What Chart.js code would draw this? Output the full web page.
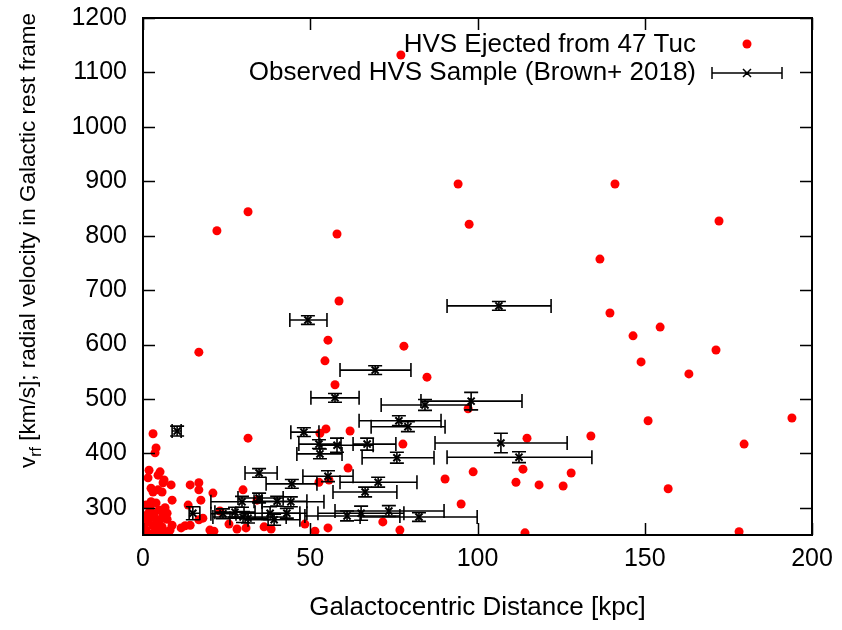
<!DOCTYPE html>
<html>
<head>
<meta charset="utf-8">
<script src="https://cdn.jsdelivr.net/npm/chart.js@4.4.1/dist/chart.umd.min.js"></script>
<style>
  html, body { margin: 0; padding: 0; background: #fff; }
  #wrap { width: 842px; height: 630px; }
</style>
</head>
<body>
<div id="wrap"><canvas id="hvsChart" width="842" height="630"></canvas></div>
<script>
// HVS ejected from 47 Tuc (simulation) - distance [kpc], velocity [km/s]
const ejDist = [
    77.1, 94.2, 31.4, 97.5, 22.1, 58.0, 141.1, 172.2, 136.6, 58.6,
    139.6, 154.6, 146.5, 171.3, 148.9, 163.2, 78.0, 55.3, 54.4, 57.4,
    84.9, 97.2, 151.0, 194.0, 133.9, 114.8, 179.7, 77.7, 54.7, 52.9,
    61.9, 61.3, 90.3, 98.7, 113.6, 128.0, 111.5, 118.4, 125.6, 157.0,
    95.1, 52.6, 55.6, 48.4, 51.4, 55.3, 71.7, 76.8, 114.2, 178.2,
    16.7, 31.4, 3.0, 3.9, 3.6,
    1.5, 2.4, 5.1, 6.0, 6.3, 8.4, 8.7, 14.1, 16.7, 16.7,
    17.3, 20.9, 13.5, 29.9, 3.0, 4.5, 5.7, 2.4, 3.9, 2.1,
    1.5, 3.3, 4.8, 6.6, 7.2, 7.2, 8.7, 1.5, 3.0, 4.2,
    5.7, 6.9, 2.4, 4.8, 0.3, 0.6, 11.4, 12.6, 14.1, 16.7,
    20.0, 21.2, 25.7, 28.1, 30.8, 17.9, 23.0, 36.2, 38.3, 34.1,
    0.9, 3.6, 5.1, 2.1, 6.0, 3.9, 0.9, 8.1, 4.5, 1.8
];
const ejVel = [
    1132, 895, 844, 821, 809, 803, 895, 827, 757, 680,
    658, 632, 616, 590, 568, 546, 597, 608, 570, 526,
    540, 482, 460, 465, 432, 428, 417, 417, 445, 437,
    441, 373, 353, 366, 371, 364, 347, 342, 340, 335,
    307, 347, 351, 270, 257, 263, 274, 259, 254, 256,
    586, 428, 436, 410, 401,
    355, 336, 366, 346, 351, 342, 314, 342, 346, 333,
    314, 327, 305, 333, 329, 333, 329, 311, 309, 300,
    289, 289, 296, 300, 290, 279, 268, 274, 267, 259,
    265, 256, 252, 252, 265, 278, 263, 267, 268, 278,
    259, 257, 270, 261, 263, 281, 294, 265, 261, 314,
    305, 281, 278, 287, 287, 270, 259, 259, 360, 369
];

// observed HVS sample (Brown+ 2018): distance with low/high bounds, velocity with error
const obsDist   = [106.4, 49.3, 69.4, 57.4, 84.3, 98.1, 76.5, 79.2, 107.0, 112.4, 75.9, 67.0, 58.0, 52.6, 48.1, 52.9, 10.2, 34.7, 44.5, 55.3, 70.3, 66.4, 14.9, 34.7, 29.6, 40.1, 44.2, 23.9, 29.9, 31.4, 38.0, 43.0, 39.2, 61.0, 65.2, 73.5, 82.5, 27.5];
const obsDistLo = [90.9, 43.9, 58.9, 50.2, 71.2, 83.1, 64.6, 68.2, 87.3, 90.9, 65.5, 62.8, 52.9, 46.6, 44.2, 46.0, 8.7, 30.5, 36.8, 47.8, 58.9, 56.8, 13.8, 28.4, 20.3, 33.2, 35.6, 20.3, 20.9, 26.0, 30.2, 35.6, 31.4, 48.4, 52.3, 57.4, 64.9, 21.5];
const obsDistHi = [122.0, 55.0, 80.1, 64.6, 97.8, 113.3, 89.1, 90.3, 126.8, 134.2, 87.0, 75.6, 68.8, 59.2, 52.6, 59.5, 11.4, 40.1, 52.0, 62.8, 81.9, 75.9, 17.0, 41.9, 35.6, 49.0, 54.1, 27.8, 42.8, 37.4, 46.9, 49.0, 46.9, 76.8, 78.0, 90.0, 99.9, 33.5];
const obsVel    = [671, 645, 553, 502, 489, 496, 460, 449, 419, 393, 392, 417, 415, 417, 439, 399, 441, 364, 344, 358, 347, 329, 290, 318, 311, 312, 311, 289, 283, 281, 290, 290, 278, 285, 290, 294, 283, 292];
const obsVelErr = [8, 8, 8, 8, 10, 16, 9, 9, 18, 10, 10, 11, 13, 8, 8, 9, 9, 8, 8, 10, 9, 9, 12, 9, 10, 9, 9, 9, 10, 9, 12, 9, 10, 9, 13, 10, 8, 9];

const xTickVals = [0, 50, 100, 150, 200];
const yTickVals = [300, 400, 500, 600, 700, 800, 900, 1000, 1100, 1200];

const legendLabels = ['HVS Ejected from 47 Tuc', 'Observed HVS Sample (Brown+ 2018)'];

const FONT = "'Liberation Sans', Arial, sans-serif";

const extras = {
    id: 'hvsExtras',
    afterDatasetsDraw(chart) {
        const { ctx, chartArea: a, scales: { x, y } } = chart;
        ctx.save();
        ctx.beginPath();
        ctx.rect(a.left, a.top, a.right - a.left, a.bottom - a.top);
        ctx.clip();
        ctx.strokeStyle = '#000';
        ctx.lineWidth = 1.6;
        obsDist.forEach((d, i) => {
            const py = y.getPixelForValue(obsVel[i]);
            const px = x.getPixelForValue(d);
            const x0 = x.getPixelForValue(obsDistLo[i]);
            const x1 = x.getPixelForValue(obsDistHi[i]);
            const y0 = y.getPixelForValue(obsVel[i] - obsVelErr[i]);
            const y1 = y.getPixelForValue(obsVel[i] + obsVelErr[i]);
            ctx.beginPath();
            // x error bar + caps
            ctx.moveTo(x0, py); ctx.lineTo(x1, py);
            ctx.moveTo(x0, py - 7); ctx.lineTo(x0, py + 7);
            ctx.moveTo(x1, py - 7); ctx.lineTo(x1, py + 7);
            // y error bar + caps
            ctx.moveTo(px, y0); ctx.lineTo(px, y1);
            ctx.moveTo(px - 7, y0); ctx.lineTo(px + 7, y0);
            ctx.moveTo(px - 7, y1); ctx.lineTo(px + 7, y1);
            ctx.stroke();
        });
        ctx.restore();
    },
    afterDraw(chart) {
        const { ctx, chartArea: a, scales: { x, y } } = chart;
        ctx.save();

        // frame with inward ticks on all four sides
        ctx.strokeStyle = '#000';
        ctx.lineWidth = 2;
        ctx.strokeRect(a.left, a.top, a.right - a.left, a.bottom - a.top);
        ctx.lineWidth = 1.5;
        ctx.beginPath();
        xTickVals.forEach(v => {
            const px = Math.round(x.getPixelForValue(v)) + 0.5;
            ctx.moveTo(px, a.bottom); ctx.lineTo(px, a.bottom - 12);
            ctx.moveTo(px, a.top); ctx.lineTo(px, a.top + 12);
        });
        yTickVals.forEach(v => {
            const py = Math.round(y.getPixelForValue(v)) + 0.5;
            ctx.moveTo(a.left, py); ctx.lineTo(a.left + 12, py);
            ctx.moveTo(a.right, py); ctx.lineTo(a.right - 12, py);
        });
        ctx.stroke();

        // y title with subscript
        ctx.fillStyle = '#000';
        ctx.translate(35, 468);
        ctx.rotate(-Math.PI / 2);
        ctx.textAlign = 'left';
        ctx.textBaseline = 'alphabetic';
        ctx.font = '22.5px ' + FONT;
        ctx.fillText('v', 0, 0);
        let off = ctx.measureText('v').width;
        ctx.font = '16px ' + FONT;
        ctx.fillText('rf', off, 6);
        off += ctx.measureText('rf').width;
        ctx.font = '22.5px ' + FONT;
        ctx.fillText(' [km/s]; radial velocity in Galactic rest frame', off, 0);
        ctx.restore();

        // legend, gnuplot style: right-aligned text, sample to the right
        ctx.save();
        ctx.font = '26px ' + FONT;
        ctx.fillStyle = '#000';
        ctx.textAlign = 'right';
        ctx.textBaseline = 'middle';
        ctx.fillText(legendLabels[0], 696, 45);
        ctx.fillText(legendLabels[1], 696, 73);
        ctx.fillStyle = '#ff0000';
        ctx.beginPath();
        ctx.arc(747, 44, 4.5, 0, Math.PI * 2);
        ctx.fill();
        ctx.strokeStyle = '#000';
        ctx.lineWidth = 1.5;
        ctx.beginPath();
        ctx.moveTo(712, 73); ctx.lineTo(782, 73);
        ctx.moveTo(712, 67); ctx.lineTo(712, 79);
        ctx.moveTo(782, 67); ctx.lineTo(782, 79);
        ctx.moveTo(743, 69); ctx.lineTo(751, 77);
        ctx.moveTo(751, 69); ctx.lineTo(743, 77);
        ctx.stroke();
        ctx.restore();
    }
};

Chart.defaults.font.family = FONT;
Chart.defaults.color = '#000';

new Chart(document.getElementById('hvsChart').getContext('2d'), {
    type: 'scatter',
    data: {
        datasets: [
            {
                label: legendLabels[1],
                data: obsDist.map((d, i) => ({ x: d, y: obsVel[i] })),
                pointStyle: 'crossRot',
                pointRadius: 5,
                borderColor: '#000',
                backgroundColor: '#000',
                borderWidth: 2,
                order: 0
            },
            {
                label: legendLabels[0],
                data: ejDist.map((d, i) => ({ x: d, y: ejVel[i] })),
                pointStyle: 'circle',
                pointRadius: 4.5,
                borderWidth: 0,
                backgroundColor: '#ff0000',
                order: 1
            }
        ]
    },
    options: {
        responsive: false,
        animation: false,
        devicePixelRatio: 1,
        layout: { padding: { left: 0, right: 30, top: 18, bottom: 0 } },
        plugins: { legend: { display: false }, tooltip: { enabled: false } },
        scales: {
            x: {
                type: 'linear',
                min: 0,
                max: 200,
                grid: { display: false, drawTicks: false },
                border: { display: false },
                afterBuildTicks: s => { s.ticks = xTickVals.map(v => ({ value: v })); },
                afterFit: s => { s.height = 95; s.paddingLeft = 0; s.paddingRight = 0; },
                ticks: { font: { size: 25 }, padding: 9, maxRotation: 0, callback: v => String(v) },
                title: {
                    display: true,
                    text: 'Galactocentric Distance [kpc]',
                    font: { size: 26 },
                    padding: { top: 0, bottom: 7 }
                }
            },
            y: {
                type: 'linear',
                min: 250,
                max: 1200,
                grid: { display: false, drawTicks: false },
                border: { display: false },
                afterBuildTicks: s => { s.ticks = yTickVals.map(v => ({ value: v })); },
                afterFit: s => { s.width = 143; s.paddingTop = 0; s.paddingBottom = 0; },
                ticks: { font: { size: 25 }, padding: 16, callback: v => String(v) }
            }
        }
    },
    plugins: [extras]
});
</script>
</body>
</html>
